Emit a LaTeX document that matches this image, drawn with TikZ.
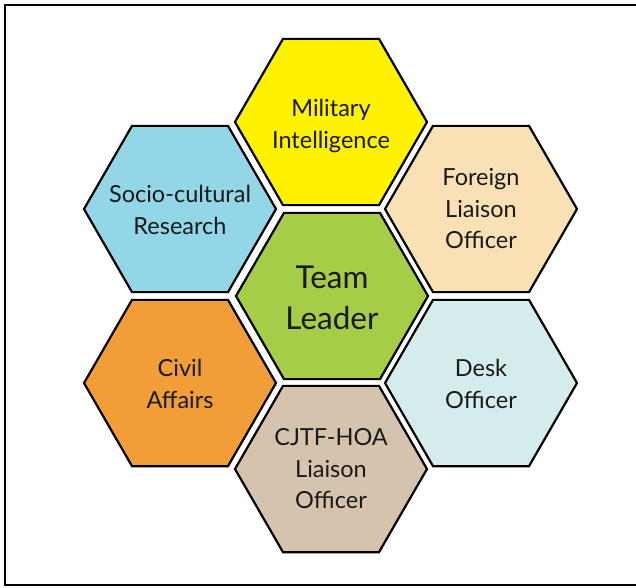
\documentclass[tikz,border=0pt]{standalone}
\usepackage{fontspec}
\setmainfont{Lato}
\usetikzlibrary{shapes.geometric}
\definecolor{cYellow}{HTML}{FFF200}
\definecolor{cBlue}{HTML}{93D6E7}
\definecolor{cWheat}{HTML}{F9E1B5}
\definecolor{cGreen}{HTML}{A6CD48}
\definecolor{cOrange}{HTML}{F19D38}
\definecolor{cCyan}{HTML}{D4EDEC}
\definecolor{cTan}{HTML}{D5C3AE}
\tikzset{
  hexcell/.style={regular polygon, regular polygon sides=6, minimum size=192pt,
    inner sep=0pt, draw=black, line width=2.2pt},
  hextext/.style={align=center, text=black!90, font=\fontsize{23.5}{31.5}\selectfont},
  bigtext/.style={align=center, text=black!90, font=\fontsize{31.5}{41}\selectfont},
}
\begin{document}
\begin{tikzpicture}[x=1pt,y=-1pt]
\useasboundingbox (0,0) rectangle (636,587);
\fill[white] (0,0) rectangle (636,587);
\draw[line width=2.4pt] (645,5) -- (5,5) -- (5,585) -- (645,585);
% hexagons
\node[hexcell, fill=cYellow] (mi) at (331,122) {};
\node[hexcell, fill=cBlue]   (sc) at (180,209) {};
\node[hexcell, fill=cWheat]  (fl) at (481,209) {};
\node[hexcell, fill=cGreen]  (tl) at (332,296) {};
\node[hexcell, fill=cOrange] (ca) at (180,383) {};
\node[hexcell, fill=cCyan]   (do) at (481,383) {};
\node[hexcell, fill=cTan]    (cj) at (331,469) {};
% texts
\node[hextext] (mit) at ([yshift=-4pt]mi.center) {Military\\Intelligence};
\node[hextext] (sct) at ([yshift=-1pt]sc.center) {Socio-cultural\\Research};
\node[hextext] (flt) at (fl.center) {Foreign\\Liaison\\Officer};
\node[bigtext] (tlt) at ([yshift=-2pt]tl.center) {Team\\Leader};
\node[hextext] (cat) at ([yshift=-1pt]ca.center) {Civil\\Affairs};
\node[hextext] (dot) at ([yshift=-1pt]do.center) {Desk\\Officer};
\node[hextext] (cjt) at (cj.center) {CJTF-HOA\\Liaison\\Officer};
\end{tikzpicture}
\end{document}
